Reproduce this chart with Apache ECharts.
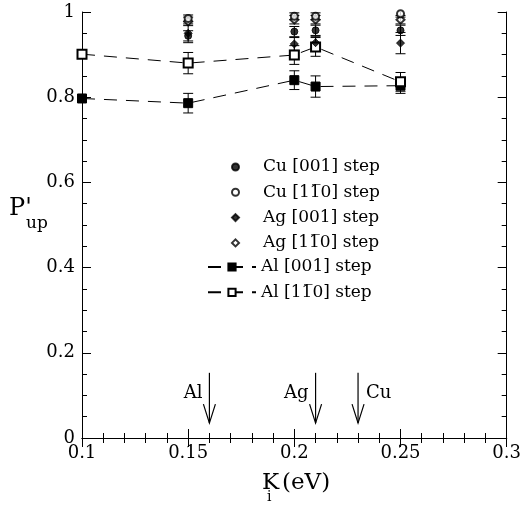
<!DOCTYPE html>
<html><head><meta charset="utf-8">
<script src="https://cdn.jsdelivr.net/npm/echarts@6/dist/echarts.min.js"></script>
<style>html,body{margin:0;padding:0;background:#fff}#c{width:524px;height:506px}</style>
</head><body><div id="c"></div>
<script>
// ---- data ----
const kHigh = [0.15, 0.2, 0.21, 0.25];
const kAll = [0.1, 0.15, 0.2, 0.21, 0.25];
const cu001 = [0.944, 0.954, 0.957, 0.957];
const cu001Err = [0.012, 0.012, 0.012, 0.012];
const cu110 = [0.985, 0.990, 0.990, 0.996];
const cu110Err = [0.008, 0.008, 0.008, 0.008];
const ag001 = [0.950, 0.925, 0.928, 0.927];
const ag001Err = [0.022, 0.015, 0.015, 0.025];
const ag110 = [0.978, 0.982, 0.982, 0.982];
const ag110Err = [0.010, 0.010, 0.010, 0.010];
const al001 = [0.797, 0.786, 0.840, 0.825, 0.827];
const al001Err = [0, 0.023, 0.022, 0.025, 0.018];
const al110 = [0.901, 0.880, 0.899, 0.918, 0.836];
const al110Err = [0, 0.025, 0.022, 0.022, 0.022];
const seriesNames = ['Cu [001] step', 'Cu [11\u03050] step', 'Ag [001] step', 'Ag [11\u03050] step', 'Al [001] step', 'Al [11\u03050] step'];
const arrowK = [0.16, 0.21, 0.23];
const arrowLabels = ['Al', 'Ag', 'Cu'];
const arrowSide = ['left', 'left', 'right'];
const arrowTop = 0.153;
const arrowTip = 0.035;
const arrowLabelY = 0.105;
const xTicks = {min: 0.1, max: 0.3, interval: 0.05};
const yTicks = {min: 0, max: 1, interval: 0.2};
// ----------------

const FONT = '"DejaVu Serif", serif';
function pairs(xs, ys) { return xs.map((x, i) => [x, ys[i]]); }
function errs(xs, ys, es) {
  const out = [];
  xs.forEach((x, i) => { if (es[i] > 0) out.push([x, ys[i] - es[i], ys[i] + es[i]]); });
  return out;
}
const errData = [].concat(
  errs(kAll, al001, al001Err), errs(kAll, al110, al110Err),
  errs(kHigh, ag001, ag001Err), errs(kHigh, ag110, ag110Err),
  errs(kHigh, cu001, cu001Err), errs(kHigh, cu110, cu110Err)
);
const arrowData = arrowK.map((k, i) => [k, arrowTop, arrowTip, i]);

const chart = echarts.init(document.getElementById('c'), null, {renderer: 'canvas'});
function axis(extra, ticks, split, showLabel, margin) {
  return Object.assign({
    type: 'value', min: ticks.min, max: ticks.max, interval: ticks.interval,
    axisLine: {lineStyle: {color: '#000', width: 1}},
    axisTick: {inside: true, length: 9, lineStyle: {color: '#000', width: 1}},
    minorTick: {show: true, splitNumber: split, length: 5, lineStyle: {color: '#000', width: 1}},
    splitLine: {show: false},
    axisLabel: showLabel ? {color: '#000', fontFamily: FONT, fontSize: 18, margin: margin} : {show: false}
  }, extra);
}
const blk = {color: '#000', borderColor: '#000', borderWidth: 1};
const legendText = {color: '#000', fontFamily: FONT, fontSize: 17, lineHeight: 18};
const option = {
  animation: false,
  backgroundColor: '#fff',
  grid: {left: 82, right: 15, top: 12, bottom: 68},
  xAxis: [
    axis({position: 'bottom'}, xTicks, 5, true, 6),
    axis({position: 'top'}, xTicks, 5, false, 0)
  ],
  yAxis: [
    axis({position: 'left'}, yTicks, 4, true, 7),
    axis({position: 'right'}, yTicks, 4, false, 0)
  ],
  legend: [
    {orient: 'vertical', left: 226, top: 153, itemWidth: 7, itemHeight: 7, itemGap: 7.3,
      data: seriesNames.slice(0, 4), textStyle: Object.assign({padding: [0, 0, 0, 19]}, legendText)},
    {orient: 'vertical', left: 202, top: 253, itemWidth: 48, itemHeight: 9, itemGap: 7.3,
      data: seriesNames.slice(4), textStyle: legendText}
  ],
  graphic: [
    {type: 'text', left: 9, top: 197, style: {text: "P'", font: '24px "DejaVu Serif"', fill: '#000'}},
    {type: 'text', left: 26, top: 215, style: {text: 'up', font: '17px "DejaVu Serif"', fill: '#000'}},
    {type: 'text', left: 262, top: 472, style: {text: 'K', font: '23px "DejaVu Serif"', fill: '#000'}},
    {type: 'text', left: 267, top: 490, style: {text: 'i', font: '14px "DejaVu Serif"', fill: '#000'}},
    {type: 'text', left: 282, top: 472, style: {text: '(eV)', font: '23px "DejaVu Serif"', fill: '#000'}}
  ],
  series: [
    {type: 'custom', name: 'err', silent: true, clip: true, z: 1, data: errData,
      renderItem: function (params, api) {
        const x = api.value(0), lo = api.value(1), hi = api.value(2);
        const p1 = api.coord([x, lo]), p2 = api.coord([x, hi]);
        const w = 5, st = {stroke: '#000', lineWidth: 1};
        return {type: 'group', children: [
          {type: 'line', shape: {x1: p1[0], y1: p1[1], x2: p2[0], y2: p2[1]}, style: st},
          {type: 'line', shape: {x1: p1[0] - w, y1: p1[1], x2: p1[0] + w, y2: p1[1]}, style: st},
          {type: 'line', shape: {x1: p2[0] - w, y1: p2[1], x2: p2[0] + w, y2: p2[1]}, style: st}
        ]};
      }},
    {type: 'custom', name: 'arrows', silent: true, z: 3, data: arrowData,
      renderItem: function (params, api) {
        const x = api.value(0), top = api.value(1), tip = api.value(2), i = api.value(3);
        const a = api.coord([x, top]), b = api.coord([x, tip]);
        const ly = api.coord([x, arrowLabelY])[1];
        const st = {stroke: '#000', lineWidth: 1.2};
        const left = arrowSide[i] === 'left';
        return {type: 'group', children: [
          {type: 'line', shape: {x1: a[0], y1: a[1], x2: b[0], y2: b[1]}, style: st},
          {type: 'polyline', shape: {points: [[b[0] - 6, b[1] - 19], [b[0], b[1]], [b[0] + 6, b[1] - 19]]}, style: {stroke: '#000', lineWidth: 1.2, fill: null}},
          {type: 'text', x: left ? a[0] - 7 : a[0] + 8, y: ly,
            style: {text: arrowLabels[i], font: '18px "DejaVu Serif"', fill: '#000', align: left ? 'right' : 'left', verticalAlign: 'middle'}}
        ]};
      }},
    {type: 'line', name: seriesNames[4], data: pairs(kAll, al001), symbol: 'rect', symbolSize: 9, z: 4,
      lineStyle: {color: '#000', width: 1, type: [13, 9]}, itemStyle: blk, color: '#000'},
    {type: 'line', name: seriesNames[5], data: pairs(kAll, al110), symbol: 'emptyRect', symbolSize: 9, z: 4,
      lineStyle: {color: '#000', width: 1, type: [13, 9]}, itemStyle: blk, color: '#000'},
    {type: 'scatter', name: seriesNames[2], data: pairs(kHigh, ag001), symbol: 'diamond', symbolSize: 8, z: 5, itemStyle: blk, color: '#000'},
    {type: 'scatter', name: seriesNames[3], data: pairs(kHigh, ag110), symbol: 'emptyDiamond', symbolSize: 8, z: 5, itemStyle: blk, color: '#000'},
    {type: 'scatter', name: seriesNames[0], data: pairs(kHigh, cu001), symbol: 'circle', symbolSize: 7, z: 5, itemStyle: blk, color: '#000'},
    {type: 'scatter', name: seriesNames[1], data: pairs(kHigh, cu110), symbol: 'emptyCircle', symbolSize: 7, z: 5, itemStyle: blk, color: '#000'}
  ]
};
chart.setOption(option);
</script></body></html>
